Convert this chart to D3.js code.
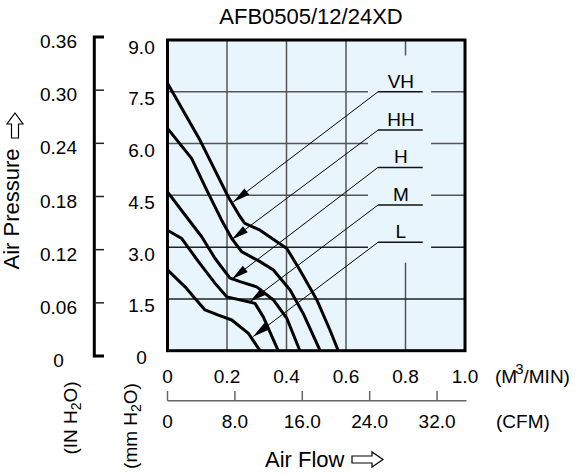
<!DOCTYPE html>
<html>
<head>
<meta charset="utf-8">
<script src="https://cdn.jsdelivr.net/npm/d3@7"></script>
<style>
  body { margin: 0; background: #fff; }
  svg { display: block; font-family: 'Liberation Sans', Arial, sans-serif; }
</style>
</head>
<body>
<div id="graph"></div>
<script>
// Tick values and their printed labels
const flowTicks = [0, 0.2, 0.4, 0.6, 0.8, 1.0];
const flowLabels = ['0', '0.2', '0.4', '0.6', '0.8', '1.0'];
const cfmTicks = [0, 8, 16, 24, 32];
const cfmLabels = ['0', '8.0', '16.0', '24.0', '32.0'];
const mmTicks = [0, 1.5, 3, 4.5, 6, 7.5, 9];
const mmLabels = ['0', '1.5', '3.0', '4.5', '6.0', '7.5', '9.0'];
const inTicks = [0, 0.06, 0.12, 0.18, 0.24, 0.30, 0.36];
const inLabels = ['0', '0.06', '0.12', '0.18', '0.24', '0.30', '0.36'];

// Fan speeds and their P-Q curves, [air flow m3/min, pressure mmH2O]
const speeds = ['VH', 'HH', 'H', 'M', 'L'];
const curveVH = [[0, 7.75], [0.109, 6.10], [0.204, 4.46], [0.244, 3.88], [0.26, 3.69],
  [0.311, 3.49], [0.401, 2.96], [0.445, 2.34], [0.502, 1.47], [0.546, 0.60], [0.574, 0]];
const curveHH = [[0, 6.44], [0.081, 5.57], [0.132, 4.65], [0.182, 3.78], [0.216, 3.25],
  [0.249, 2.87], [0.311, 2.58], [0.356, 2.34], [0.412, 1.76], [0.456, 1.08], [0.513, 0]];
const curveH = [[0, 4.60], [0.059, 3.93], [0.115, 3.30], [0.16, 2.67], [0.21, 2.10],
  [0.244, 2.00], [0.30, 1.85], [0.356, 1.47], [0.401, 0.94], [0.445, 0]];
const curveM = [[0, 3.49], [0.048, 3.25], [0.104, 2.58], [0.16, 1.95], [0.199, 1.56],
  [0.272, 1.42], [0.294, 1.37], [0.322, 0.98], [0.372, 0]];
const curveL = [[0, 2.34], [0.059, 1.85], [0.126, 1.18], [0.171, 1.03], [0.216, 0.89],
  [0.272, 0.50], [0.311, 0]];
const curves = [curveVH, curveHH, curveH, curveM, curveL];

// Label underline level (mmH2O) and the curve point each leader arrow touches
const labelLevels = [7.5, 6.39, 5.31, 4.22, 3.14];
const arrowTips = [[0.221, 4.31], [0.216, 3.22], [0.216, 2.07], [0.277, 1.42], [0.288, 0.41]];

/*------------------------------------------------------*/

const width = 576;
const height = 475;
const bg = '#e9f5fd';

const svg = d3.select('#graph')
  .append('svg')
  .attr('width', width)
  .attr('height', height);

// Scales: inner mmH2O axis + plot, outer inch bracket, two flow units
const x = d3.scaleLinear().domain([0, 1]).range([167.5, 465]);
const xCfm = d3.scaleLinear().domain([0, 35.315]).range([167.5, 465]);
const y = d3.scaleLinear().domain([0, 9]).range([350.7, 40]);
const yIn = d3.scaleLinear().domain([0, 0.36]).range([356, 37]);

// Title
svg.append('text')
  .attr('x', 311)
  .attr('y', 23.5)
  .attr('text-anchor', 'middle')
  .attr('font-size', 22)
  .text('AFB0505/12/24XD');

// Plot background
svg.append('rect')
  .attr('x', x(0))
  .attr('y', y(9))
  .attr('width', x(1) - x(0))
  .attr('height', y(0) - y(9))
  .attr('fill', bg);

// Grid
const grid = svg.append('g').attr('stroke-width', 1.5);
grid.selectAll('.vgrid')
  .data(flowTicks.slice(1, -1))
  .join('line')
  .attr('x1', (d) => x(d))
  .attr('x2', (d) => x(d))
  .attr('y1', y(9))
  .attr('y2', y(0))
  .attr('stroke', '#555');
grid.selectAll('.hgrid')
  .data(mmTicks.slice(1, -1))
  .join('line')
  .attr('x1', x(0))
  .attr('x2', x(1))
  .attr('y1', (d) => y(d))
  .attr('y2', (d) => y(d))
  .attr('stroke', (d) => d <= 3 ? '#222' : '#555');

// Blank the grid behind the speed labels
svg.append('rect')
  .attr('x', x(0.674))
  .attr('y', y(8.55))
  .attr('width', x(0.886) - x(0.674))
  .attr('height', y(2.55) - y(8.55))
  .attr('fill', bg);

// P-Q curves
const line = d3.line()
  .x((d) => x(d[0]))
  .y((d) => y(d[1]));

svg.append('g')
  .selectAll('path')
  .data(curves)
  .join('path')
  .attr('d', line)
  .attr('fill', 'none')
  .attr('stroke', '#000')
  .attr('stroke-width', 3)
  .attr('stroke-linejoin', 'round');

// Speed labels with underline and leader arrow
const uLeft = x(0.7076);
const uRight = x(0.858);

function arrowHead(x0, y0, tx, ty) {
  const dx = tx - x0, dy = ty - y0, len = Math.hypot(dx, dy);
  const ux = dx / len, uy = dy / len;
  const bx = tx - ux * 17, by = ty - uy * 17;
  const px = -uy * 4, py = ux * 4;
  return [[tx, ty], [bx + px, by + py], [bx - px, by - py]];
}

const labels = svg.append('g')
  .selectAll('g')
  .data(speeds)
  .join('g');

labels.append('line')
  .attr('x1', uLeft)
  .attr('x2', uRight)
  .attr('y1', (d, i) => y(labelLevels[i]))
  .attr('y2', (d, i) => y(labelLevels[i]))
  .attr('stroke', '#111')
  .attr('stroke-width', 1.5);

labels.append('line')
  .attr('x1', uLeft)
  .attr('y1', (d, i) => y(labelLevels[i]))
  .attr('x2', (d, i) => x(arrowTips[i][0]))
  .attr('y2', (d, i) => y(arrowTips[i][1]))
  .attr('stroke', '#000')
  .attr('stroke-width', 1);

labels.append('polygon')
  .attr('points', (d, i) => arrowHead(uLeft, y(labelLevels[i]),
    x(arrowTips[i][0]), y(arrowTips[i][1])).join(' '))
  .attr('fill', '#000');

labels.append('text')
  .attr('x', (uLeft + uRight) / 2 + 0.5)
  .attr('y', (d, i) => y(labelLevels[i]) - 4)
  .attr('text-anchor', 'middle')
  .attr('font-size', 19)
  .text((d) => d);

// Plot frame
svg.append('rect')
  .attr('x', x(0))
  .attr('y', y(9))
  .attr('width', x(1) - x(0))
  .attr('height', y(0) - y(9))
  .attr('fill', 'none')
  .attr('stroke', '#000')
  .attr('stroke-width', 3);

// Inner (mmH2O) tick labels
svg.append('g')
  .selectAll('text')
  .data(mmTicks)
  .join('text')
  .attr('x', 141.5)
  .attr('y', (d) => y(d) + 13.5)
  .attr('text-anchor', 'middle')
  .attr('font-size', 19)
  .text((d, i) => mmLabels[i]);

// Outer (IN H2O) bracket axis
svg.append('path')
  .attr('d', `M104,${yIn(0.36)}H94.3V${yIn(0)}H104`)
  .attr('fill', 'none')
  .attr('stroke', '#000')
  .attr('stroke-width', 3);
svg.append('g')
  .selectAll('line')
  .data(inTicks.slice(1, -1))
  .join('line')
  .attr('x1', 94.3)
  .attr('x2', 104)
  .attr('y1', (d) => yIn(d))
  .attr('y2', (d) => yIn(d))
  .attr('stroke', '#222')
  .attr('stroke-width', 1.5);
svg.append('g')
  .selectAll('text')
  .data(inTicks)
  .join('text')
  .attr('x', 58.5)
  .attr('y', (d) => yIn(d) + 11)
  .attr('text-anchor', 'middle')
  .attr('font-size', 19)
  .text((d, i) => inLabels[i]);

// Flow labels (m3/min) under the plot
svg.append('g')
  .selectAll('text')
  .data(flowTicks)
  .join('text')
  .attr('x', (d) => x(d))
  .attr('y', 383.3)
  .attr('text-anchor', 'middle')
  .attr('font-size', 19)
  .text((d, i) => flowLabels[i]);

// CFM axis
const cfmAxis = svg.append('g').attr('stroke', '#666').attr('stroke-width', 1.5);
cfmAxis.append('line')
  .attr('x1', x(0))
  .attr('x2', x(1) + 1.5)
  .attr('y1', 400.7)
  .attr('y2', 400.7);
cfmAxis.selectAll('.tick')
  .data(cfmTicks)
  .join('line')
  .attr('x1', (d) => xCfm(d))
  .attr('x2', (d) => xCfm(d))
  .attr('y1', 400.7)
  .attr('y2', 391);
svg.append('g')
  .selectAll('text')
  .data(cfmTicks)
  .join('text')
  .attr('x', (d) => xCfm(d))
  .attr('y', 427.7)
  .attr('text-anchor', 'middle')
  .attr('font-size', 19)
  .text((d, i) => cfmLabels[i]);

// Unit captions
const m3 = svg.append('text')
  .attr('x', 495)
  .attr('y', 383.3)
  .attr('font-size', 19);
m3.append('tspan').text('(M');
m3.append('tspan').attr('dx', -2).attr('dy', -9).attr('font-size', 15).text('3');
m3.append('tspan').attr('dy', 9).text('/MIN)');

svg.append('text')
  .attr('x', 496)
  .attr('y', 427.7)
  .attr('font-size', 19)
  .text('(CFM)');

function rotatedUnit(cx, cy, pre) {
  const t = svg.append('text')
    .attr('transform', `translate(${cx},${cy}) rotate(-90)`)
    .attr('text-anchor', 'middle')
    .attr('font-size', 19);
  t.append('tspan').text(pre + ' H');
  t.append('tspan').attr('dy', 4).attr('font-size', 14).text('2');
  t.append('tspan').attr('dy', -4).text('O)');
}
rotatedUnit(76.5, 418, '(IN');
rotatedUnit(136.5, 426, '(mm');

// Axis titles with outlined arrows
svg.append('text')
  .attr('transform', 'translate(18.5,209) rotate(-90)')
  .attr('text-anchor', 'middle')
  .attr('font-size', 22)
  .text('Air Pressure');
svg.append('path')
  .attr('d', 'M15,113L23,124L18.5,124L18.5,138L11.5,138L11.5,124L7,124Z')
  .attr('fill', '#fff')
  .attr('stroke', '#000')
  .attr('stroke-width', 1.2);

svg.append('text')
  .attr('x', 265)
  .attr('y', 466.7)
  .attr('font-size', 22)
  .text('Air Flow');
svg.append('path')
  .attr('d', 'M383,459.5L372,452L372,456L352,456L352,463L372,463L372,467Z')
  .attr('fill', '#fff')
  .attr('stroke', '#000')
  .attr('stroke-width', 1.2);
</script>
</body>
</html>
